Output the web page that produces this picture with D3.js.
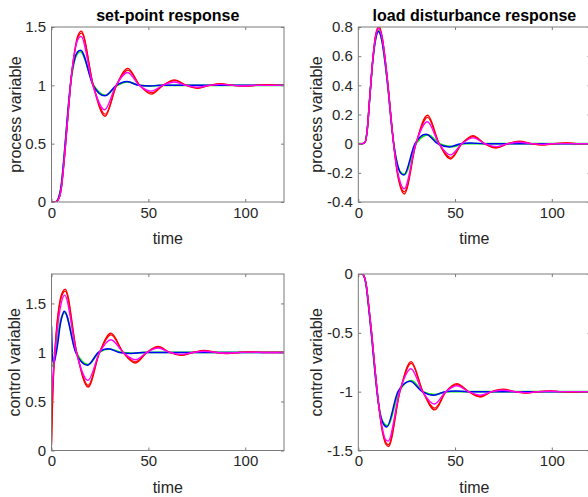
<!DOCTYPE html>
<html>
<head>
<meta charset="utf-8">
<script src="https://cdn.jsdelivr.net/npm/d3@7"></script>
<style>
  body { margin: 0; background: #fff; }
  svg { display: block; font-family: "Liberation Sans", Arial, sans-serif; }
</style>
</head>
<body>
<div id="chart"></div>
<script>
// step responses: [time, value] pairs per tuning
const TIME_TICKS = [0, 50, 100];

// set-point response, process variable
const spPvRed1 = [[0,0],[2,0],[3.5,0.02],[5,0.11],[6.8,0.4],[8.5,0.74],[10.2,1.07],[12,1.3],[13.5,1.42],[15.4,1.465],[21.5,1.0],[27.6,0.735],[33.5,1.0],[39.4,1.145],[45.5,1.0],[51.6,0.925],[57.5,1.0],[63.5,1.047],[69.5,1.0],[75.5,0.975],[81.5,1.0],[87.5,1.014],[93.5,1.0],[99.5,0.993],[105.5,1.0],[111.5,1.005],[117,1.0],[120,1.0]];
const spPvRed2 = [[0,0],[2,0],[3.5,0.02],[5,0.11],[6.8,0.4],[8.5,0.74],[10.2,1.07],[12,1.29],[13.5,1.405],[15.5,1.447],[21.6,1.0],[27.7,0.752],[33.6,1.0],[39.5,1.13],[45.6,1.0],[51.7,0.937],[57.6,1.0],[63.6,1.04],[69.6,1.0],[75.6,0.979],[81.6,1.0],[87.6,1.011],[93.6,1.0],[99.6,0.995],[105.6,1.0],[111.6,1.004],[117,1.0],[120,1.0]];
const spPvMagenta = [[0,0],[2,0],[3.5,0.02],[5,0.11],[6.8,0.41],[8.5,0.75],[10.2,1.07],[12,1.29],[13.5,1.39],[15.2,1.42],[21.3,1.0],[27.4,0.79],[33.3,1.0],[39.3,1.11],[45.3,1.0],[51.4,0.95],[57.4,1.0],[63.4,1.028],[69.4,1.0],[75.4,0.984],[81.4,1.0],[87.4,1.008],[93.4,1.0],[99.4,0.996],[105.4,1.0],[120,1.0]];
const spPvGreen = [[0,0],[2,0],[3.5,0.03],[5,0.13],[6.8,0.44],[8.5,0.77],[10.2,1.05],[12,1.22],[13.3,1.27],[14.8,1.29],[21.8,1.0],[28,0.915],[34,1.0],[39.5,1.03],[45.5,1.0],[51.5,0.995],[57,1.0],[120,1.0]];
const spPvBlue = [[0,0],[2,0],[3.5,0.03],[5,0.14],[6.8,0.45],[8.5,0.79],[10.2,1.07],[12,1.23],[13.4,1.285],[15,1.3],[21.5,1.0],[27.5,0.91],[33.5,1.0],[39,1.032],[45,1.0],[51,0.995],[56,1.0],[120,1.0]];

// load disturbance response, process variable
const ldPvRed1 = [[0,0],[2,0],[3.5,0.01],[4.5,0.08],[6,0.33],[7.5,0.58],[9,0.75],[10.7,0.805],[12.5,0.72],[14,0.57],[15.6,0.37],[17,0.17],[18.5,-0.03],[20,-0.19],[21.8,-0.3],[23.8,-0.345],[29.8,0],[35.8,0.195],[41.8,0],[47.7,-0.105],[53.5,0],[59.3,0.055],[65.3,0],[71.3,-0.03],[77.3,0],[83.3,0.017],[89.3,0],[95.3,-0.009],[101.3,0],[107.3,0.005],[113,0],[120,0]];
const ldPvRed2 = [[0,0],[2,0],[3.5,0.01],[4.5,0.08],[6,0.33],[7.5,0.58],[9,0.745],[10.7,0.795],[12.5,0.715],[14,0.565],[15.6,0.365],[17,0.165],[18.5,-0.03],[20,-0.18],[21.8,-0.29],[23.8,-0.33],[29.8,0],[35.8,0.18],[41.8,0],[47.7,-0.095],[53.5,0],[59.3,0.048],[65.3,0],[71.3,-0.026],[77.3,0],[83.3,0.014],[89.3,0],[95.3,-0.007],[101.3,0],[107.3,0.004],[113,0],[120,0]];
const ldPvMagenta = [[0,0],[2,0],[3.5,0.01],[4.5,0.08],[6,0.33],[7.5,0.58],[9,0.735],[10.6,0.79],[12.5,0.71],[14,0.56],[15.6,0.36],[17,0.16],[18.5,-0.03],[20,-0.17],[21.8,-0.27],[23.7,-0.31],[29.7,0],[35.7,0.15],[41.7,0],[47.6,-0.077],[53.5,0],[59.4,0.04],[65.4,0],[71.4,-0.02],[77.4,0],[83.4,0.01],[89.4,0],[95.4,-0.005],[101,0],[120,0]];
const ldPvGreen = [[0,0],[2,0],[3.5,0.01],[4.5,0.08],[6,0.33],[7.5,0.57],[9,0.72],[10.5,0.775],[12.3,0.7],[14,0.54],[15.6,0.35],[17,0.15],[18.5,-0.02],[20,-0.13],[21.8,-0.195],[23.9,-0.21],[29.8,0],[36,0.06],[42,0],[48.5,-0.02],[55,0],[120,0]];
const ldPvBlue = [[0,0],[2,0],[3.5,0.01],[4.5,0.08],[6,0.33],[7.5,0.57],[9,0.72],[10.4,0.77],[12.3,0.7],[14,0.54],[15.6,0.35],[17,0.15],[18.5,-0.02],[20,-0.13],[21.8,-0.2],[23.5,-0.215],[29.3,0],[35,0.065],[41,0],[47,-0.022],[53,0],[58,0.004],[65,0],[120,0]];

// set-point response, control variable
const spCvRed1 = [[0,0.05],[0.4,0.4],[1,0.75],[2,1.08],[3.2,1.36],[4.5,1.54],[5.8,1.62],[7.1,1.645],[13,1.0],[18.9,0.647],[24.8,1.0],[30.7,1.195],[37,1.0],[43.3,0.893],[49.2,1.0],[55,1.06],[61,1.0],[67,0.97],[73,1.0],[79,1.02],[85,1.0],[91,0.99],[97,1.0],[103,1.006],[109,1.0],[120,1.0]];
const spCvRed2 = [[0,0.08],[0.4,0.42],[1,0.76],[2,1.08],[3.2,1.35],[4.5,1.52],[5.8,1.6],[7.1,1.625],[13,1.0],[18.9,0.665],[24.8,1.0],[30.7,1.18],[37,1.0],[43.3,0.905],[49.2,1.0],[55,1.052],[61,1.0],[67,0.975],[73,1.0],[79,1.015],[85,1.0],[91,0.992],[97,1.0],[103,1.004],[109,1.0],[120,1.0]];
const spCvMagenta = [[0,0.5],[0.6,0.72],[1.5,0.94],[2.5,1.14],[3.7,1.35],[5,1.5],[6.8,1.585],[12.8,1.0],[18.8,0.715],[24.8,1.0],[30.7,1.13],[37,1.0],[43.3,0.925],[49.2,1.0],[55,1.045],[61,1.0],[67,0.98],[73,1.0],[79,1.012],[85,1.0],[91,0.994],[97,1.0],[103,1.003],[109,1.0],[120,1.0]];
const spCvGreen = [[0,0.85],[0.7,0.87],[1.5,0.93],[2.5,1.05],[3.7,1.22],[5,1.35],[6.8,1.405],[12.8,1.0],[19,0.875],[24.5,1.0],[30,1.035],[36,1.0],[42,0.992],[48,1.0],[120,1.0]];
const spCvBlue = [[0,1.27],[0.3,1.05],[0.7,0.92],[1.2,0.89],[2,0.95],[3.3,1.1],[4.5,1.28],[5.5,1.37],[6.6,1.42],[12.5,1.0],[18.5,0.87],[24.2,1.0],[29.3,1.037],[35,1.0],[41,0.99],[47,1.0],[120,1.0]];

// load disturbance response, control variable
const ldCvRed1 = [[0,0],[2,0],[3,-0.02],[4,-0.08],[5.2,-0.24],[7,-0.52],[8.7,-0.82],[10,-1.03],[11.3,-1.22],[12.8,-1.37],[14.2,-1.445],[15.6,-1.466],[21.5,-1.0],[27.3,-0.745],[33.4,-1.0],[39.5,-1.155],[45.3,-1.0],[51,-0.932],[57,-1.0],[63,-1.045],[69,-1.0],[75,-0.98],[81,-1.0],[87,-1.012],[93,-1.0],[99,-0.994],[105,-1.0],[111,-1.003],[117,-1.0],[120,-1.0]];
const ldCvRed2 = [[0,0],[2,0],[3,-0.02],[4,-0.08],[5.2,-0.24],[7,-0.52],[8.7,-0.82],[10,-1.03],[11.3,-1.21],[12.8,-1.355],[14.2,-1.43],[15.6,-1.45],[21.5,-1.0],[27.3,-0.76],[33.4,-1.0],[39.5,-1.14],[45.3,-1.0],[51,-0.94],[57,-1.0],[63,-1.038],[69,-1.0],[75,-0.984],[81,-1.0],[87,-1.01],[93,-1.0],[99,-0.995],[105,-1.0],[120,-1.0]];
const ldCvMagenta = [[0,0],[2,0],[3,-0.02],[4,-0.08],[5.2,-0.24],[7,-0.52],[8.7,-0.82],[10,-1.03],[11.3,-1.2],[12.8,-1.34],[14,-1.405],[15.4,-1.42],[21.3,-1.0],[27.2,-0.805],[33.2,-1.0],[39.3,-1.105],[45.2,-1.0],[51,-0.95],[57,-1.0],[63,-1.03],[69,-1.0],[75,-0.988],[81,-1.0],[87,-1.008],[93,-1.0],[99,-0.996],[105,-1.0],[120,-1.0]];
const ldCvGreen = [[0,0],[2,0],[3,-0.02],[4,-0.09],[5.2,-0.25],[7,-0.54],[8.7,-0.84],[10,-1.04],[11.3,-1.18],[12.8,-1.26],[15,-1.29],[21,-1.0],[27.5,-0.905],[33.5,-1.0],[39.5,-1.025],[46,-1.0],[120,-1.0]];
const ldCvBlue = [[0,0],[2,0],[3,-0.02],[4,-0.09],[5.2,-0.26],[7,-0.55],[8.7,-0.85],[10,-1.05],[11.3,-1.19],[12.8,-1.27],[14.7,-1.3],[20.5,-1.0],[26.8,-0.912],[33,-1.0],[39,-1.03],[45,-1.0],[50,-0.995],[56,-1.0],[120,-1.0]];

const PANELS = [
  { title: "set-point response", ylabel: "process variable", labelX: 20.5, box: [51.5, 27, 284, 202],
    yDomain: [0, 1.5], yTicks: [0, 0.5, 1, 1.5],
    lines: [spPvGreen, spPvBlue, spPvRed2, spPvRed1, spPvMagenta] },
  { title: "load disturbance response", ylabel: "process variable", labelX: 321.5, box: [358.3, 27, 590.5, 202],
    yDomain: [-0.4, 0.8], yTicks: [-0.4, -0.2, 0, 0.2, 0.4, 0.6, 0.8],
    lines: [ldPvGreen, ldPvBlue, ldPvRed2, ldPvRed1, ldPvMagenta] },
  { title: "", ylabel: "control variable", labelX: 20, box: [51.5, 274, 284, 450.5],
    yDomain: [0, 1.8], yTicks: [0, 0.5, 1, 1.5],
    lines: [spCvGreen, spCvBlue, spCvRed2, spCvRed1, spCvMagenta] },
  { title: "", ylabel: "control variable", labelX: 321.5, box: [358.3, 274, 590.5, 450.5],
    yDomain: [-1.5, 0], yTicks: [-1.5, -1, -0.5, 0],
    lines: [ldCvGreen, ldCvBlue, ldCvRed2, ldCvRed1, ldCvMagenta] },
];

// same order as PANELS[].lines
const STYLES = [
  { color: "#00ee00", width: 1.7 },
  { color: "#0000ff", width: 1.5 },
  { color: "#ff0000", width: 1.2 },
  { color: "#ff0000", width: 1.4 },
  { color: "#ff00ff", width: 1.4 },
];

const W = 588, H = 497;
const AXIS = "#7a7a7a", TEXT = "#262626";

const svg = d3.select("#chart").append("svg").attr("width", W).attr("height", H);

PANELS.forEach((p, i) => {
  const [x0, y0, x1, y1] = p.box;
  const x = d3.scaleLinear().domain([0, 120]).range([x0, x1]);
  const y = d3.scaleLinear().domain(p.yDomain).range([y1, y0]);

  svg.append("clipPath").attr("id", "clip" + i)
    .append("rect").attr("x", x0).attr("y", y0).attr("width", x1 - x0).attr("height", y1 - y0);

  const line = d3.line().x((d) => x(d[0])).y((d) => y(d[1])).curve(d3.curveMonotoneX);
  const g = svg.append("g").attr("clip-path", `url(#clip${i})`);
  p.lines.forEach((data, k) => {
    const s = STYLES[k];
    g.append("path")
      .attr("d", line(data))
      .attr("fill", "none")
      .attr("stroke", s.color)
      .attr("stroke-width", s.width)
      .attr("stroke-linejoin", "round");
  });

  // axes: ticks point inward on all four sides, labels on left and bottom
  const styleAxis = (sel) => {
    sel.select(".domain").remove();
    sel.selectAll(".tick line").attr("stroke", AXIS);
    sel.selectAll(".tick text").attr("fill", TEXT).style("font-size", "15px")
      .style("font-family", '"Liberation Sans", Arial, sans-serif');
  };
  svg.append("g").attr("transform", `translate(0,${y1})`)
    .call(d3.axisBottom(x).tickValues(TIME_TICKS).tickSize(-3).tickPadding(5).tickFormat(d3.format("d")))
    .call(styleAxis);
  svg.append("g").attr("transform", `translate(0,${y0})`)
    .call(d3.axisTop(x).tickValues(TIME_TICKS).tickSize(-3).tickFormat(""))
    .call(styleAxis);
  svg.append("g").attr("transform", `translate(${x0},0)`)
    .call(d3.axisLeft(y).tickValues(p.yTicks).tickSize(-3).tickPadding(5.5).tickFormat((v) => String(+v.toFixed(2))))
    .call(styleAxis);
  svg.append("g").attr("transform", `translate(${x1},0)`)
    .call(d3.axisRight(y).tickValues(p.yTicks).tickSize(-3).tickFormat(""))
    .call(styleAxis);

  svg.append("rect")
    .attr("x", x0).attr("y", y0).attr("width", x1 - x0).attr("height", y1 - y0)
    .attr("fill", "none").attr("stroke", AXIS).attr("stroke-width", 1);

  const cx = (x0 + x1) / 2;
  if (p.title)
    svg.append("text").attr("x", cx).attr("y", y0 - 6.5)
      .attr("text-anchor", "middle").attr("fill", "#000")
      .style("font-size", "16px").style("font-weight", "bold").text(p.title);

  svg.append("text").attr("x", cx).attr("y", y1 + 42)
    .attr("text-anchor", "middle").attr("fill", TEXT).style("font-size", "16px").text("time");

  svg.append("text")
    .attr("transform", `translate(${p.labelX},${(y0 + y1) / 2}) rotate(-90)`)
    .attr("text-anchor", "middle").attr("fill", TEXT).style("font-size", "16px").text(p.ylabel);
});
</script>
</body>
</html>
